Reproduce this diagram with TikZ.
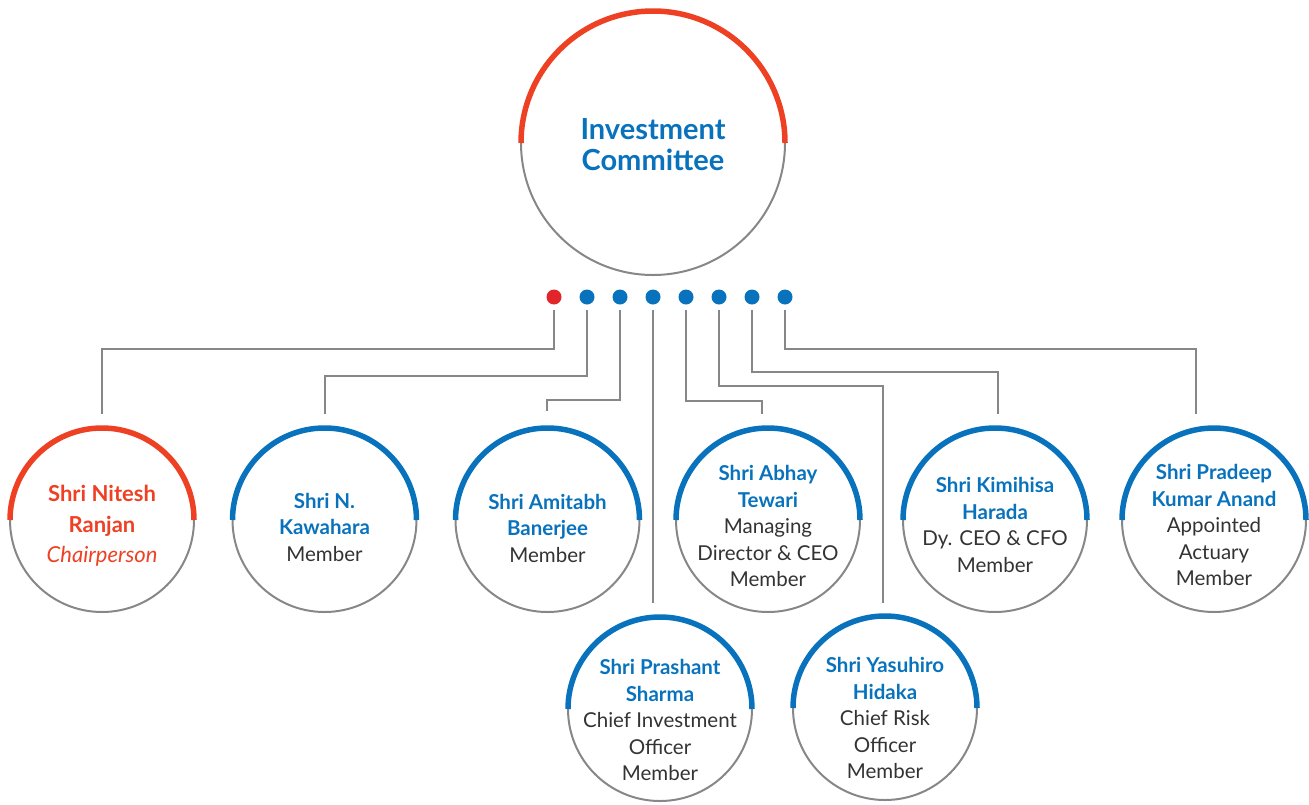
\documentclass[tikz,border=0pt]{standalone}
\usepackage{fontspec}
\setmainfont{Lato}
\usetikzlibrary{calc}
\definecolor{icblue}{HTML}{0872BC}
\definecolor{icred}{HTML}{EE4023}
\definecolor{dotred}{HTML}{E0252B}
\definecolor{icgray}{HTML}{87878A}
\definecolor{txtgray}{HTML}{333333}
\tikzset{
  ring/.style={circle, draw=icgray, line width=2pt, minimum size=184pt, inner sep=0pt, outer sep=0pt},
  bigring/.style={circle, draw=icgray, line width=2pt, minimum size=264pt, inner sep=0pt, outer sep=0pt},
  bluearc/.style={draw=icblue, line width=5.5pt},
  redarc/.style={draw=icred, line width=5.5pt},
  bdot/.style={circle, fill=icblue, minimum size=15pt, inner sep=0pt, outer sep=0pt},
  rdot/.style={circle, fill=dotred, minimum size=15pt, inner sep=0pt, outer sep=0pt},
  conn/.style={draw=icgray, line width=2pt},
  memtext/.style={align=center, text=txtgray, font=\fontsize{20.5}{26.5}\selectfont, inner sep=0pt},
}
\newcommand{\nm}[1]{\textcolor{icblue}{\bfseries #1}}
\begin{document}
\begin{tikzpicture}[x=1pt, y=-1pt]
\useasboundingbox (0,0) rectangle (1309,804);
% top circle
\node[bigring] (top) at (653,143) {};
\draw[redarc] (top.west) arc[start angle=180, end angle=360, radius=132];
\node[align=center, text=icblue, font=\fontsize{29}{31}\selectfont\bfseries] (toptext) at (653,145) {Investment\\Committee};
% dots
\node[rdot] (d1) at (554,297) {};
\node[bdot] (d2) at (587,297) {};
\node[bdot] (d3) at (620,297) {};
\node[bdot] (d4) at (653,297) {};
\node[bdot] (d5) at (686,297) {};
\node[bdot] (d6) at (719,297) {};
\node[bdot] (d7) at (752,297) {};
\node[bdot] (d8) at (785,297) {};
% member circles
\node[ring] (n1) at (102,520) {};
\draw[redarc] (n1.west) arc[start angle=180, end angle=360, radius=92];
\node[ring] (n2) at (324.5,520) {};
\draw[bluearc] (n2.west) arc[start angle=180, end angle=360, radius=92];
\node[ring] (n3) at (547.5,520) {};
\draw[bluearc] (n3.west) arc[start angle=180, end angle=360, radius=92];
\node[ring] (n4) at (768,520) {};
\draw[bluearc] (n4.west) arc[start angle=180, end angle=360, radius=92];
\node[ring] (n5) at (995,520) {};
\draw[bluearc] (n5.west) arc[start angle=180, end angle=360, radius=92];
\node[ring] (n6) at (1214,520) {};
\draw[bluearc] (n6.west) arc[start angle=180, end angle=360, radius=92];
\node[ring] (n7) at (660,709) {};
\draw[bluearc] (n7.west) arc[start angle=180, end angle=360, radius=92];
\node[ring] (n8) at (885,708) {};
\draw[bluearc] (n8.west) arc[start angle=180, end angle=360, radius=92];
% texts
\node[align=center, text=icred, font=\fontsize{22}{30.5}\selectfont, inner sep=0pt] (t1) at (102,526) {\bfseries Shri Nitesh\\\bfseries Ranjan\\\itshape Chairperson};
\node[memtext] (t2) at (324.5,527) {\nm{Shri N.}\\\nm{Kawahara}\\Member};
\node[memtext] (t3) at (547.5,528) {\nm{Shri Amitabh}\\\nm{Banerjee}\\Member};
\node[memtext] (t4) at (768,526) {\nm{Shri Abhay}\\\nm{Tewari}\\Managing\\Director \& CEO\\Member};
\node[memtext] (t5) at (995,525) {\nm{Shri Kimihisa}\\\nm{Harada}\\Dy. CEO \& CFO\\Member};
\node[memtext] (t6) at (1214,525) {\nm{Shri Pradeep}\\\nm{Kumar Anand}\\Appointed\\Actuary\\Member};
\node[memtext] (t7) at (660,720) {\nm{Shri Prashant}\\\nm{Sharma}\\Chief Investment\\Officer\\Member};
\node[memtext] (t8) at (885,718) {\nm{Shri Yasuhiro}\\\nm{Hidaka}\\Chief Risk\\Officer\\Member};
% connectors
\draw[conn] ([yshift=-13pt]d1.center) |- ($(n1.north)+(0,-79)$) -- ($(n1.north)+(0,-14)$);
\draw[conn] ([yshift=-13pt]d2.center) |- ($(n2.north)+(0.5,-52)$) -- ($(n2.north)+(0.5,-14)$);
\draw[conn] ([yshift=-13pt]d3.center) |- ($(n3.north)+(-0.5,-28)$) -- ($(n3.north)+(-0.5,-17)$);
\draw[conn] ([yshift=-13pt]d4.center) -- ($(d4 |- n7.north)+(0,-14)$);
\draw[conn] ([yshift=-13pt]d5.center) |- ($(n4.north)+(-6,-27)$) -- ($(n4.north)+(-6,-14)$);
\draw[conn] ([yshift=-13pt]d6.center) |- ($(n8.north)+(-2,-230)$) -- ($(n8.north)+(-2,-13)$);
\draw[conn] ([yshift=-13pt]d7.center) |- ($(n5.north)+(3,-56)$) -- ($(n5.north)+(3,-14)$);
\draw[conn] ([yshift=-13pt]d8.center) |- ($(n6.north)+(-18,-79)$) -- ($(n6.north)+(-18,-14)$);
\end{tikzpicture}
\end{document}
